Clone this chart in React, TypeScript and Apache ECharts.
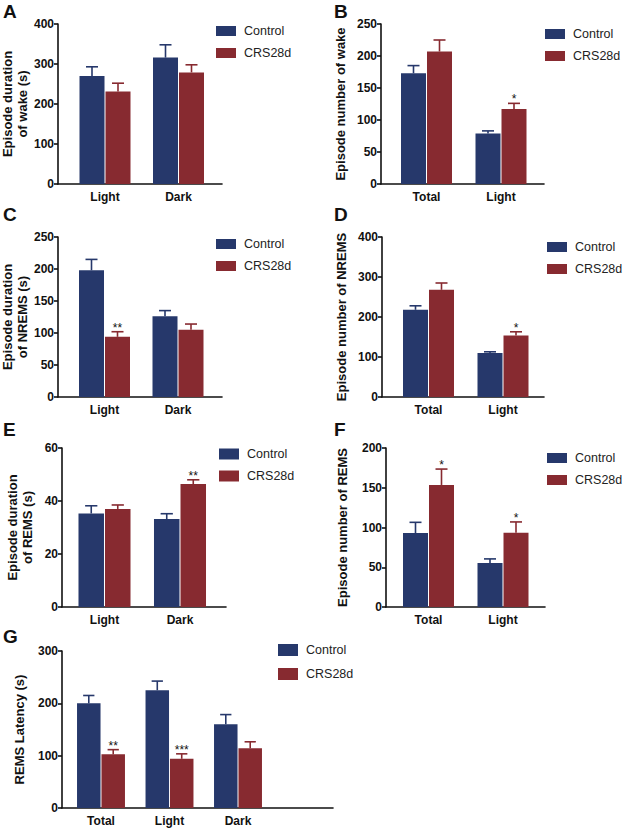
import { useEffect, useRef } from "react";
import * as echarts from "echarts";

// ---------- Data ----------
const SERIES_NAMES = ["Control", "CRS28d"];

const catsA = ["Light", "Dark"];
const ctrlA = [270, 316];
const ctrlSemA = [23, 32];
const crsA = [231, 279];
const crsSemA = [21, 19];
const sigA = ["", ""];

const catsB = ["Total", "Light"];
const ctrlB = [173, 79];
const ctrlSemB = [12, 4];
const crsB = [207, 117];
const crsSemB = [18, 9];
const sigB = ["", "*"];

const catsC = ["Light", "Dark"];
const ctrlC = [198, 126];
const ctrlSemC = [17, 9];
const crsC = [94, 105];
const crsSemC = [8, 9];
const sigC = ["**", ""];

const catsD = ["Total", "Light"];
const ctrlD = [218, 110];
const ctrlSemD = [10, 3];
const crsD = [268, 154];
const crsSemD = [17, 9];
const sigD = ["", "*"];

const catsE = ["Light", "Dark"];
const ctrlE = [35.3, 33.2];
const ctrlSemE = [2.9, 2.0];
const crsE = [37.0, 46.4];
const crsSemE = [1.5, 1.6];
const sigE = ["", "**"];

const catsF = ["Total", "Light"];
const ctrlF = [93, 55.5];
const ctrlSemF = [13.5, 5];
const crsF = [153.5, 93.5];
const crsSemF = [20, 13.5];
const sigF = ["*", "*"];

const catsG = ["Total", "Light", "Dark"];
const ctrlG = [200, 225, 160];
const ctrlSemG = [15, 17.5, 18.5];
const crsG = [102.5, 94, 114];
const crsSemG = [9, 9.5, 12.5];
const sigG = ["**", "***", ""];

const yMaxes = [400, 250, 250, 400, 60, 200, 300];
const ySteps = [100, 50, 50, 100, 20, 50, 100];
const yNames = [
  "Episode duration\nof wake (s)",
  "Episode number of wake",
  "Episode duration\nof NREMS (s)",
  "Episode number of NREMS",
  "Episode duration\nof REMS (s)",
  "Episode number of REMS",
  "REMS Latency (s)",
];
const letters = ["A", "B", "C", "D", "E", "F", "G"];

const panels = [
  { cats: catsA, ctrl: ctrlA, ctrlSem: ctrlSemA, crs: crsA, crsSem: crsSemA, sig: sigA },
  { cats: catsB, ctrl: ctrlB, ctrlSem: ctrlSemB, crs: crsB, crsSem: crsSemB, sig: sigB },
  { cats: catsC, ctrl: ctrlC, ctrlSem: ctrlSemC, crs: crsC, crsSem: crsSemC, sig: sigC },
  { cats: catsD, ctrl: ctrlD, ctrlSem: ctrlSemD, crs: crsD, crsSem: crsSemD, sig: sigD },
  { cats: catsE, ctrl: ctrlE, ctrlSem: ctrlSemE, crs: crsE, crsSem: crsSemE, sig: sigE },
  { cats: catsF, ctrl: ctrlF, ctrlSem: ctrlSemF, crs: crsF, crsSem: crsSemF, sig: sigF },
  { cats: catsG, ctrl: ctrlG, ctrlSem: ctrlSemG, crs: crsG, crsSem: crsSemG, sig: sigG },
];

// ---------- Layout / style ----------
const COLORS = ["#26386b", "#872a30"];
const FONT = "'Liberation Sans', Arial, sans-serif";
const INK = "#111111";

const layouts = [
  { left: 58, top: 24, width: 164, height: 160, c0: 105, unit: 73.5, nameGap: 28, lg: [216, 24], lgGap: 8, lt: [3, 2], barW: 25, sw: 10 },
  { left: 381, top: 24, width: 163, height: 160, c0: 426.5, unit: 74.5, nameGap: 33, lg: [545, 27], lgGap: 8, lt: [334, 2], barW: 25, sw: 10 },
  { left: 58, top: 237, width: 164, height: 160, c0: 104.5, unit: 73.5, nameGap: 28, lg: [216, 237], lgGap: 8, lt: [3, 205], barW: 25, sw: 10 },
  { left: 382, top: 237, width: 162, height: 160, c0: 428.5, unit: 74.5, nameGap: 33, lg: [547, 240], lgGap: 8, lt: [334, 205], barW: 25, sw: 10 },
  { left: 62, top: 448, width: 164, height: 159, c0: 104.5, unit: 75.5, nameGap: 27, lg: [219, 447], lgGap: 8, lt: [3, 420], barW: 25.5, sw: 11 },
  { left: 386, top: 448, width: 159, height: 159, c0: 428.5, unit: 74.5, nameGap: 36, lg: [547, 451], lgGap: 8, lt: [334, 420], barW: 25, sw: 10 },
  { left: 62, top: 651, width: 271, height: 157, c0: 101, unit: 68.5, nameGap: 35, lg: [278, 643], lgGap: 10, lt: [3, 627], barW: 23.5, sw: 12 },
];

function makeErrRender(sig: string[], color: string, side: number, barW: number, showSig: boolean) {
  return (params: any, api: any) => {
    const k = params.dataIndex;
    const x = api.value(0);
    const m = api.value(1);
    const t = api.value(2);
    const b = api.coord([x, m]);
    const tp = api.coord([x, t]);
    const gap = barW * 0.04;
    const cx = b[0] + side * (barW / 2 + gap / 2);
    const capHalf = barW * 0.24;
    const children: any[] = [
      { type: "line", shape: { x1: cx, y1: b[1], x2: cx, y2: tp[1] }, style: { stroke: color, lineWidth: 1.6 } },
      { type: "line", shape: { x1: cx - capHalf, y1: tp[1], x2: cx + capHalf, y2: tp[1] }, style: { stroke: color, lineWidth: 1.6 } },
    ];
    if (showSig && sig[k]) {
      children.push({
        type: "text",
        x: cx,
        y: tp[1] + 2,
        style: { text: sig[k], textAlign: "center", textVerticalAlign: "bottom", fontSize: 12, fill: INK, fontFamily: FONT },
      });
    }
    return { type: "group", children };
  };
}

export default function App() {
  const ref = useRef<HTMLDivElement>(null);
  useEffect(() => {
    if (!ref.current) return;
    const chart = echarts.init(ref.current, undefined, { renderer: "svg" });
    const axisLineStyle = { color: INK, width: 1.6 };

    const grid = layouts.map((l) => ({
      left: l.left,
      top: l.top,
      width: l.width,
      height: l.height,
      containLabel: false,
      outerBoundsMode: "none",
    }));

    const xAxis = layouts.map((l, i) => {
      const min = -(l.c0 - l.left) / l.unit;
      const max = min + l.width / l.unit;
      const cats = panels[i].cats;
      return {
        type: "value",
        gridIndex: i,
        min,
        max,
        axisLine: { show: true, onZero: false, lineStyle: axisLineStyle },
        axisTick: { show: false },
        splitLine: { show: false },
        axisLabel: {
          customValues: cats.map((_, k) => k),
          formatter: (v: number) => cats[Math.round(v)] ?? "",
          fontWeight: "bold",
          fontSize: 12,
          color: INK,
          fontFamily: FONT,
          margin: 7,
        },
      };
    });

    const yAxis = layouts.map((l, i) => ({
      type: "value",
      gridIndex: i,
      min: 0,
      max: yMaxes[i],
      interval: ySteps[i],
      name: yNames[i],
      nameLocation: "middle",
      nameRotate: 90,
      nameGap: l.nameGap,
      nameTextStyle: { fontWeight: "bold", fontSize: 13, color: INK, fontFamily: FONT, lineHeight: 15 },
      axisLine: { show: true, onZero: false, lineStyle: axisLineStyle },
      axisTick: { show: true, length: 4, lineStyle: axisLineStyle },
      splitLine: { show: false },
      axisLabel: { fontWeight: "bold", fontSize: 12, color: INK, fontFamily: FONT, margin: 4 },
    }));

    const series: any[] = [];
    panels.forEach((p, i) => {
      const l = layouts[i];
      const groups = [
        { vals: p.ctrl, sem: p.ctrlSem, sig: [] as string[], side: -1 },
        { vals: p.crs, sem: p.crsSem, sig: p.sig, side: 1 },
      ];
      groups.forEach((g, gi) => {
        series.push({
          type: "bar",
          name: SERIES_NAMES[gi],
          xAxisIndex: i,
          yAxisIndex: i,
          barWidth: l.barW,
          barGap: "4%",
          itemStyle: { color: COLORS[gi] },
          data: g.vals.map((v, k) => [k, v]),
          z: 2,
        });
      });
      groups.forEach((g, gi) => {
        series.push({
          type: "custom",
          name: SERIES_NAMES[gi] + " SEM",
          xAxisIndex: i,
          yAxisIndex: i,
          encode: { x: 0, y: [1, 2] },
          renderItem: makeErrRender(g.sig, COLORS[gi], g.side, l.barW, gi === 1),
          data: g.vals.map((v, k) => [k, v, v + g.sem[k]]),
          z: 3,
          silent: true,
        });
      });
    });

    const legend = layouts.map((l) => ({
      orient: "vertical",
      left: l.lg[0],
      top: l.lg[1],
      padding: 0,
      itemWidth: 20,
      itemHeight: l.sw,
      itemGap: l.lgGap,
      icon: "rect",
      selectedMode: false,
      data: SERIES_NAMES,
      textStyle: { fontSize: 12.5, lineHeight: 14, color: "#222", fontFamily: FONT, padding: [0, 0, 0, 3] },
    }));

    const graphic = layouts.map((l, i) => ({
      type: "text",
      x: l.lt[0],
      y: l.lt[1],
      style: { text: letters[i], fontSize: 19, fontWeight: "bold", fill: INK, fontFamily: FONT, textVerticalAlign: "top" },
    }));

    chart.setOption({
      animation: false,
      backgroundColor: "#ffffff",
      grid,
      xAxis,
      yAxis,
      legend,
      series,
      graphic,
    });
    return () => chart.dispose();
  }, []);
  return <div ref={ref} style={{ position: "fixed", left: 0, top: 0, width: 625, height: 829, background: "#fff" }} />;
}
